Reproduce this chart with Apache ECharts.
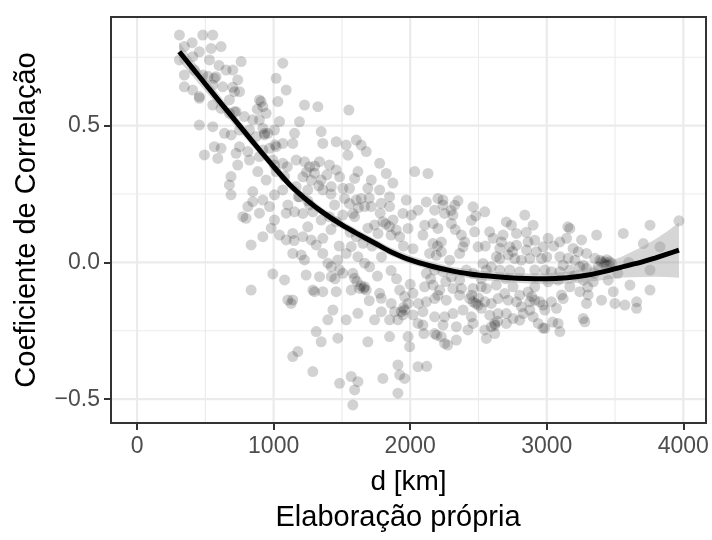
<!DOCTYPE html>
<html>
<head>
<meta charset="utf-8">
<script src="https://cdn.jsdelivr.net/npm/echarts@6/dist/echarts.min.js"></script>
<style>html,body{margin:0;padding:0;background:#fff}#c{width:712px;height:540px}</style>
</head>
<body>
<div id="c"></div>
<script>
// ---- data ----
const distKm = [
310,403,481,554,615,456,346,542,310,407,530,762,1067,346,420,481,578,652,701,737,1018,346,407,456,554,627,713,676,750,896,921,945,1031,1092,554,615,676,725,786,847,896,921,957,1006,1043,456,554,640,689,750,823,872,933,566,615,493,591,725,750,811,921,969,1018,1067,737,823,896,994,1067,884,945,1018,1080,688,676,688,847,847,921,1006,1067,1104,811,774,798,896,970,1006,1092,982,1043,1092,921,835,994,1080,835,1104,566,908,713,933,456,1006,
1226,1324,1551,1189,1153,1140,1348,1360,1458,1531,1605,1641,1678,1544,1165,1226,1263,1336,1299,1348,1409,1458,1483,1422,1360,1507,1556,1593,1617,1776,1825,1715,1690,1776,1849,2033,1214,1165,1250,1189,1263,1446,1519,1605,1641,1666,1580,1593,1715,1788,1849,1971,1947,2008,2057,1874,1800,1739,1690,1764,1849,1898,1923,1984,1153,1214,1287,1348,1409,1458,1507,1275,1312,1360,1214,1140,1605,1654,1568,1531,1470,1397,1422,1483,1617,1666,1703,1580,1507,1202,1226,1140,1360,1238,1336,1422,1287,1593,1629,1666,1678,1568,1458,1360,1299,1776,1788,1861,1923,1959,1984,2020,1886,1947,1788,1739,1910,1140,1128,1434,1397,1531,1617,1849,1959,2020,2057,1312,1348,1470,1690,1849,1984,1996,1177,1140,2057,1287,1483,1568,1617,1593,1800,1910,1923,1959,1910,1580,1873,
2130,2118,2203,2240,2326,2179,2252,2313,2460,2546,2448,2839,2704,2741,2900,3010,2778,2106,2167,2203,2301,2375,2399,2472,2497,2582,2607,2668,2656,2729,2778,2863,2912,2851,2924,2973,2093,2167,2228,2142,2191,2228,2289,2362,2387,2533,2631,2656,2717,2766,2814,2876,2961,2118,2179,2240,2301,2362,2411,2460,2558,2594,2656,2729,2802,2912,2986,3034,2106,2167,2216,2313,2375,2460,2521,2558,2631,2692,2753,2802,2863,2912,3010,2118,2179,2203,2264,2362,2436,2460,2497,2546,2594,2643,2717,2778,2814,2876,2912,2949,2973,3034,2093,2179,2252,2313,2387,2448,2521,2582,2643,2704,2753,2827,2876,2986,2093,2179,2228,2240,2338,2423,2546,2594,2619,2704,2802,2900,2986,2937,2252,2338,2558,2619,2460,
3169,3365,3560,3756,3968,3707,3829,3096,3145,3255,3193,3230,3291,3096,3157,3206,3267,3352,3389,3426,3462,3377,3438,3096,3169,3242,3291,3756,3083,3169,3267,3340,3450,3487,3609,3756,3108,3120,3242,3303,3291,3401,3499,3572,3658,3658,3071,3267,3279,3083,3096,3401,3474,2972,3044,3154,2194,2275,2121
];
const corr = [
0.831,0.803,0.831,0.831,0.789,0.770,0.789,0.782,0.740,0.752,0.740,0.734,0.728,0.685,0.703,0.685,0.679,0.703,0.703,0.667,0.673,0.642,0.630,0.606,0.648,0.642,0.624,0.594,0.624,0.594,0.569,0.545,0.588,0.630,0.575,0.563,0.545,0.551,0.533,0.521,0.521,0.490,0.472,0.484,0.515,0.502,0.496,0.472,0.466,0.484,0.484,0.460,0.472,0.423,0.417,0.393,0.380,0.399,0.423,0.405,0.411,0.417,0.423,0.435,0.356,0.374,0.387,0.374,0.362,0.332,0.301,0.332,0.314,0.314,0.283,0.247,0.259,0.222,0.228,0.247,0.265,0.210,0.204,0.167,0.161,0.180,0.204,0.155,0.180,0.125,0.100,0.082,0.094,0.064,-0.042,-0.064,-0.101,-0.137,0.673,0.588,0.551,0.466,0.600,0.356,
0.575,0.569,0.557,0.514,0.472,0.435,0.478,0.435,0.441,0.429,0.447,0.429,0.405,0.392,0.374,0.368,0.350,0.368,0.326,0.301,0.356,0.338,0.313,0.277,0.265,0.271,0.271,0.307,0.332,0.362,0.325,0.301,0.271,0.265,0.240,0.332,0.313,0.277,0.265,0.240,0.210,0.210,0.234,0.228,0.234,0.204,0.179,0.167,0.204,0.216,0.204,0.228,0.179,0.173,0.191,0.155,0.149,0.137,0.125,0.106,0.131,0.118,0.094,0.124,0.185,0.179,0.185,0.155,0.167,0.149,0.173,0.082,0.064,0.088,0.094,0.106,0.094,0.070,0.058,0.033,0.009,-0.003,-0.016,-0.028,0.021,-0.003,-0.016,-0.040,-0.040,0.027,0.009,0.033,0.033,-0.046,-0.052,-0.052,-0.101,-0.058,-0.095,-0.089,-0.101,-0.101,-0.107,-0.107,-0.107,-0.113,-0.131,-0.150,-0.101,-0.125,-0.150,-0.113,-0.180,-0.192,-0.180,-0.210,-0.210,-0.137,-0.150,-0.174,-0.210,-0.210,-0.186,-0.210,-0.174,-0.192,-0.223,-0.253,-0.290,-0.277,-0.290,-0.271,-0.271,-0.308,-0.326,-0.344,-0.381,-0.399,-0.442,-0.417,-0.436,-0.466,-0.424,-0.375,-0.411,-0.424,-0.478,-0.521,0.290,
0.325,0.221,0.234,0.228,0.209,0.191,0.179,0.173,0.203,0.185,0.154,0.173,0.148,0.136,0.136,0.088,0.106,0.136,0.142,0.124,0.142,0.100,0.075,0.112,0.057,0.112,0.088,0.075,0.051,0.057,0.063,0.075,0.081,0.045,0.039,0.057,0.100,0.069,0.075,0.033,0.026,0.039,0.008,0.033,0.057,-0.004,0.021,0.014,0.027,0.014,0.008,0.014,0.014,-0.040,-0.028,-0.034,-0.053,-0.065,-0.028,-0.040,-0.028,-0.016,-0.028,-0.028,-0.034,-0.028,-0.028,-0.034,-0.089,-0.083,-0.101,-0.095,-0.095,-0.095,-0.089,-0.095,-0.083,-0.114,-0.089,-0.120,-0.108,-0.089,-0.071,-0.144,-0.132,-0.120,-0.138,-0.120,-0.132,-0.144,-0.156,-0.144,-0.150,-0.132,-0.138,-0.144,-0.162,-0.144,-0.138,-0.144,-0.156,-0.144,-0.180,-0.199,-0.199,-0.187,-0.174,-0.199,-0.168,-0.193,-0.187,-0.187,-0.205,-0.187,-0.174,-0.174,-0.229,-0.260,-0.272,-0.229,-0.235,-0.247,-0.247,-0.235,-0.223,-0.223,-0.211,-0.199,-0.241,-0.223,-0.296,-0.284,-0.278,-0.260,-0.223,
0.124,0.100,0.106,0.136,0.152,0.069,0.057,0.075,0.088,0.082,0.051,0.039,0.033,0.021,0.015,0.008,-0.010,0.015,0.008,0.002,0.002,-0.016,-0.010,-0.034,-0.028,-0.016,-0.022,-0.028,-0.065,-0.089,-0.065,-0.071,-0.065,-0.107,-0.083,-0.101,-0.119,-0.132,-0.107,-0.119,-0.150,-0.138,-0.150,-0.156,-0.144,-0.168,-0.168,-0.205,-0.217,-0.223,-0.253,0.002,-0.004,-0.240,-0.218,0.130,-0.266,-0.302,-0.380
];
// additional points in the densest (overlapping) areas
const distKm2 = [1240,1275,1300,1330,1390,1420,1250,1555,1620,1700,1640,1660,1610,1935,1950,2450,2480,2500,2620,2640,2890,3420,3440,3460,2240,2300,2350,2480,1780,1820,1860,1720,1790,1860,1900,2000,2020,1950,2060,2150,2260,2520,2700,2750,2850,3000,3050,3120,3200,3300,3350,3520,3600,2200,2330,2550,2680,1480,1560,1420,1250,1180,1100,1010,880,700,600,520,1150,1450,1700,1760,2100];
const corr2 = [0.330,0.300,0.352,0.280,0.320,0.250,0.225,0.215,0.200,0.235,-0.085,-0.095,-0.070,-0.180,-0.165,-0.120,-0.150,-0.130,-0.230,-0.215,-0.125,-0.005,0.010,-0.012,0.210,0.190,0.225,0.170,0.180,0.140,0.100,0.060,0.020,-0.030,-0.060,-0.080,0.050,0.060,-0.150,-0.060,-0.070,-0.060,-0.060,0.040,0.110,0.020,0.060,-0.010,-0.050,-0.090,-0.040,-0.040,0.000,0.060,0.120,0.060,0.100,0.060,0.110,0.120,0.130,0.240,0.350,0.430,0.560,0.640,0.720,0.680,0.080,-0.060,-0.140,-0.050,-0.260];
// smooth fit and its confidence band
const fitX = [309,400,529,650,774,900,1000,1116,1250,1360,1500,1605,1750,1849,2000,2150,2313,2450,2558,2700,2850,3000,3150,3303,3450,3548,3700,3792,3880,3968];
const fitY = [0.770,0.714,0.634,0.560,0.485,0.409,0.350,0.285,0.225,0.183,0.137,0.107,0.068,0.041,0.009,-0.013,-0.032,-0.043,-0.049,-0.055,-0.059,-0.060,-0.056,-0.046,-0.030,-0.017,0.002,0.016,0.030,0.045];
const bandLow = [0.735,0.684,0.609,0.538,0.465,0.391,0.333,0.269,0.209,0.168,0.122,0.092,0.053,0.026,-0.006,-0.028,-0.047,-0.059,-0.066,-0.072,-0.077,-0.080,-0.078,-0.072,-0.062,-0.055,-0.053,-0.052,-0.053,-0.056];
const bandHigh = [0.805,0.744,0.659,0.582,0.505,0.427,0.367,0.301,0.241,0.198,0.152,0.122,0.083,0.056,0.024,0.002,-0.017,-0.027,-0.032,-0.038,-0.041,-0.040,-0.034,-0.020,0.002,0.021,0.057,0.084,0.113,0.146];
// axes
const xTicks = [0,1000,2000,3000,4000];
const xMinor = [500,1500,2500,3500];
const yTicks = [-0.5,0,0.5];
const yMinor = [-0.25,0.25,0.75];
const xRange = [-191,4166];
const yRange = [-0.587,0.897];

const FONT = 'Liberation Sans, Arial, Helvetica, sans-serif';
const chart = echarts.init(document.getElementById('c'), null, {renderer:'canvas'});

const vLines = xTicks.map(v=>[v,0,2.2]).concat(xMinor.map(v=>[v,0,1.1]));
const hLines = yTicks.map(v=>[0,v,2.2]).concat(yMinor.map(v=>[0,v,1.1]));

const pts = [];
for (let i=0;i<Math.min(distKm.length, corr.length);i++) pts.push([distKm[i], corr[i]]);
for (let i=0;i<Math.min(distKm2.length, corr2.length);i++) pts.push([distKm2[i], corr2[i]]);

function fmtY(v){ if (Math.abs(v)<1e-9) return '0.0'; return (v<0?'\u2212':'') + Math.abs(v).toFixed(1); }
function fmtX(v){ return String(Math.round(v)); }

chart.setOption({
  animation:false,
  backgroundColor:'#ffffff',
  grid:{left:111, right:6, top:17, bottom:117, show:true, borderColor:'#333333', borderWidth:2, backgroundColor:'transparent', z:10},
  xAxis:{type:'value', min:xRange[0], max:xRange[1],
    axisLine:{show:false, onZero:false},
    axisTick:{show:true, customValues:xTicks, length:7, lineStyle:{color:'#333333', width:2}},
    axisLabel:{customValues:xTicks, color:'#4d4d4d', fontSize:23, margin:12, fontFamily:FONT, formatter:fmtX},
    splitLine:{show:false},
    name:'d [km]', nameLocation:'middle', nameGap:45,
    nameTextStyle:{fontSize:28, color:'#000', fontFamily:FONT}},
  yAxis:{type:'value', min:yRange[0], max:yRange[1],
    axisLine:{show:false, onZero:false},
    axisTick:{show:true, customValues:yTicks, length:7, lineStyle:{color:'#333333', width:2}},
    axisLabel:{customValues:yTicks, color:'#4d4d4d', fontSize:23, margin:11, fontFamily:FONT, formatter:fmtY},
    splitLine:{show:false},
    name:'Coeficiente de Correlação', nameLocation:'middle', nameGap:70, nameRotate:90,
    nameTextStyle:{fontSize:29, color:'#000', fontFamily:FONT}},
  graphic:[
    {type:'text', x:398, y:518, style:{text:'Elaboração própria', fill:'#000', font:'29px '+FONT, textAlign:'center', textVerticalAlign:'middle'}}
  ],
  series:[
    {type:'custom', z:1, silent:true, data:vLines, encode:{x:0,y:1}, clip:false,
      renderItem:function(params, api){
        const cs = params.coordSys;
        const x = api.coord([api.value(0), 0])[0];
        return {type:'line', shape:{x1:x, y1:cs.y, x2:x, y2:cs.y+cs.height}, style:{stroke:'#ebebeb', lineWidth:api.value(2)}};
      }},
    {type:'custom', z:1, silent:true, data:hLines, encode:{x:0,y:1}, clip:false,
      renderItem:function(params, api){
        const cs = params.coordSys;
        const y = api.coord([0, api.value(1)])[1];
        return {type:'line', shape:{x1:cs.x, y1:y, x2:cs.x+cs.width, y2:y}, style:{stroke:'#ebebeb', lineWidth:api.value(2)}};
      }},
    {type:'scatter', z:3, silent:true, symbol:'circle', symbolSize:11,
      data: pts,
      itemStyle:{color:'rgba(0,0,0,0.22)', borderWidth:0}},
    {type:'custom', z:4, silent:true, data: fitX.map((x,i)=>[x, bandLow[i], bandHigh[i]]), encode:{x:0, y:[1,2]},
      renderItem:function(params, api){
        if (params.dataIndex !== 0) return;
        const p = [];
        for (let i=0;i<fitX.length;i++) p.push(api.coord([fitX[i], bandHigh[i]]));
        for (let i=fitX.length-1;i>=0;i--) p.push(api.coord([fitX[i], bandLow[i]]));
        return {type:'polygon', shape:{points:p}, style:{fill:'rgba(153,153,153,0.4)'}};
      }},
    {type:'line', z:5, silent:true, showSymbol:false, symbol:'none', smooth:0.2,
      data: fitX.map((x,i)=>[x, fitY[i]]),
      lineStyle:{color:'#000', width:5}}
  ]
});
</script>
</body>
</html>
